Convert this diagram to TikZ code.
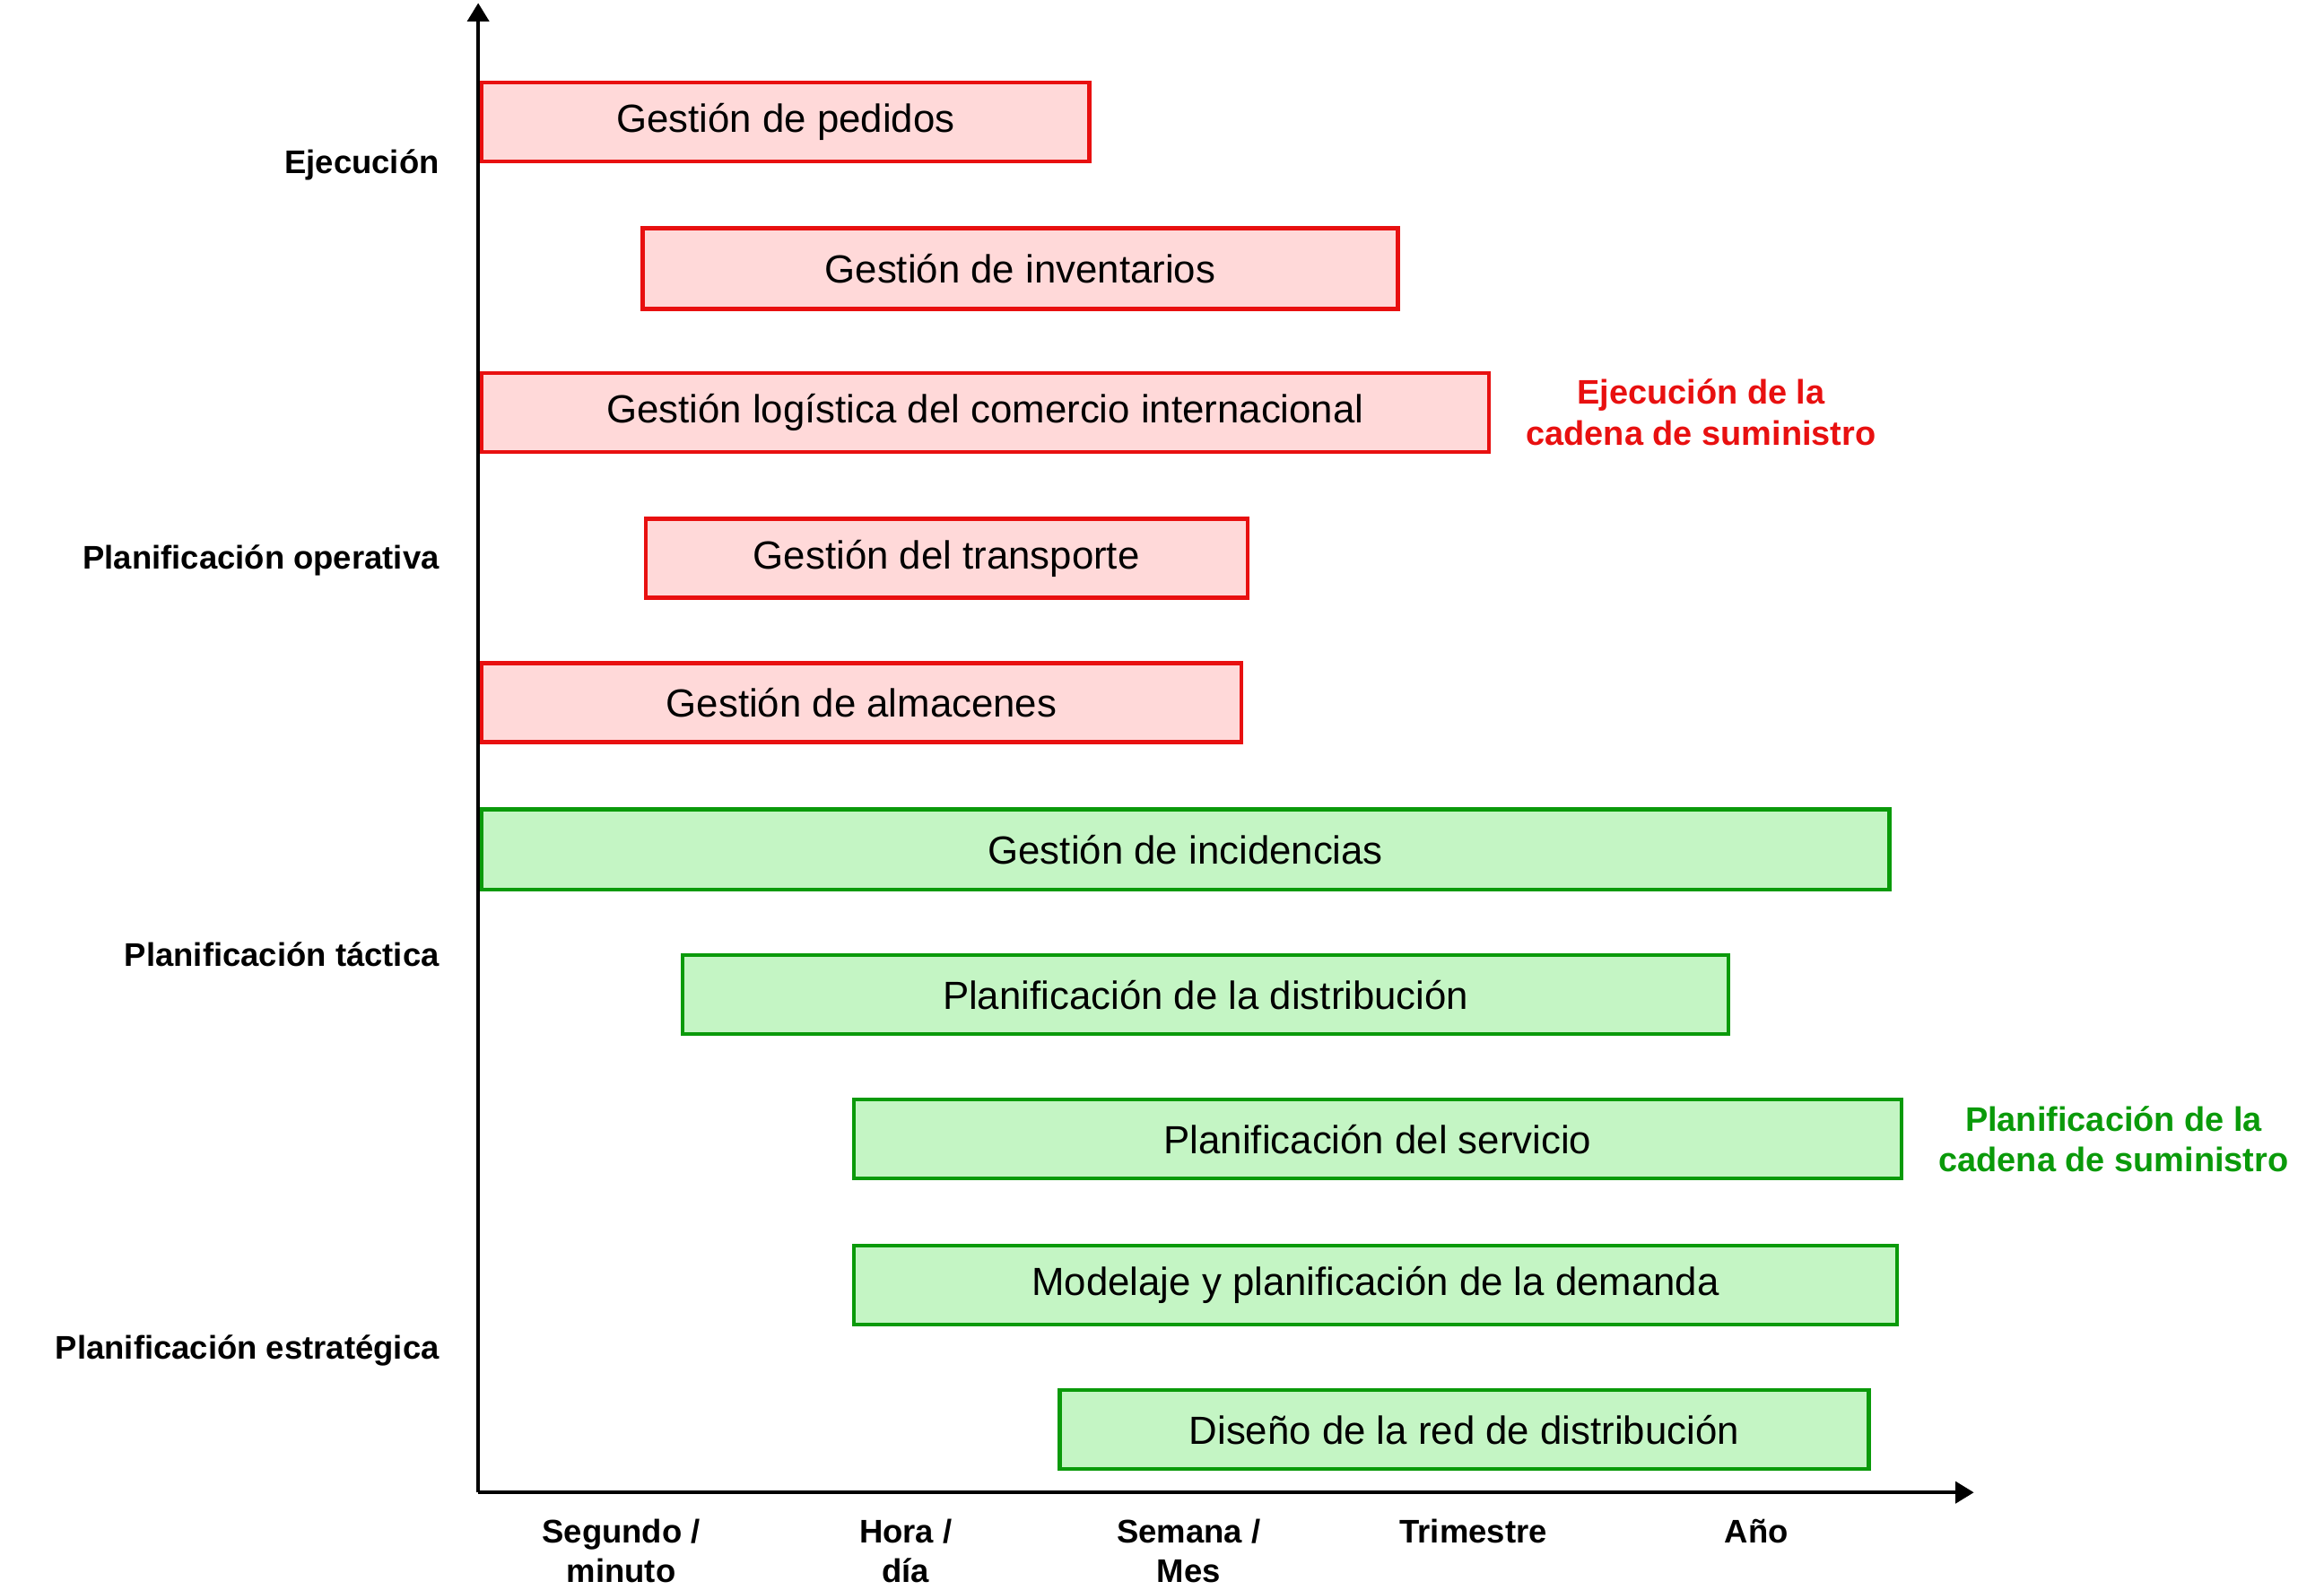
\documentclass[tikz,border=0pt]{standalone}
\usepackage{fontspec}
\setmainfont{Liberation Sans}
\usetikzlibrary{arrows.meta,positioning}
\definecolor{lightRed}{HTML}{FFD9D9}
\definecolor{darkRed}{HTML}{E81010}
\definecolor{lightGreen}{HTML}{C4F5C4}
\definecolor{darkGreen}{HTML}{0A9A0A}
\tikzset{
  task/.style={draw, line width=1.5pt, anchor=north west, inner sep=0pt,
    font=\fontsize{15}{18}\selectfont},
  redtask/.style={task, fill=lightRed, draw=darkRed},
  greentask/.style={task, fill=lightGreen, draw=darkGreen},
  level/.style={anchor=east, font=\bfseries\fontsize{12.5}{15}\selectfont},
  tick/.style={align=center, anchor=north, font=\bfseries\fontsize{12.5}{15}\selectfont},
  group/.style={align=center, font=\bfseries\fontsize{13}{15.5}\selectfont}
}
\begin{document}
\begin{tikzpicture}[x=0.02cm, y=-0.02cm, >=Triangle]
  \useasboundingbox (0,0) rectangle (1560,1067);

  % axes
  \coordinate (o) at (321,1002);
  \coordinate (ytop) at (321,2);
  \coordinate (xend) at (1325,1002);
  \draw[line width=1.5pt, ->] (o) -- (ytop);
  \draw[line width=1.5pt, ->] (o) -- (xend);

  % tasks
  \foreach \n/\xa/\ya/\xb/\yb/\s/\t in {
    pedidos/322/54/730/107/redtask/Gestión de pedidos,
    inventarios/430/152/937/206/redtask/Gestión de inventarios,
    logistica/322/249/998/302/redtask/Gestión logística del comercio internacional,
    transporte/432/347/836/400/redtask/Gestión del transporte,
    almacenes/322/444/832/497/redtask/Gestión de almacenes,
    incidencias/322/542/1267/596/greentask/Gestión de incidencias,
    distribucion/457/640/1159/693/greentask/Planificación de la distribución,
    servicio/572/737/1275/790/greentask/Planificación del servicio,
    demanda/572/835/1272/888/greentask/Modelaje y planificación de la demanda,
    red/710/932/1253/985/greentask/Diseño de la red de distribución}{
    \pgfmathsetmacro\w{(\xb-\xa)*0.02}
    \pgfmathsetmacro\h{(\yb-\ya)*0.02}
    \node[\s, minimum width=\w cm, minimum height=\h cm] (\n) at (\xa,\ya) {\raisebox{0.35cm}{}\t};
  }

  % levels
  \node[level] (ejec) at (301,111) {Ejecución};
  \node[level] (oper) at (301,376) {Planificación operativa};
  \node[level] (tact) at (301,641) {Planificación táctica};
  \node[level] (estr) at (301,907) {Planificación estratégica};

  % groups
  \node[group, text=darkRed, right=10pt of logistica] (grpRed)
    {Ejecución de la\\cadena de suministro};
  \node[group, text=darkGreen, right=10pt of servicio] (grpGreen)
    {Planificación de la\\cadena de suministro};

  % time scale
  \foreach \n/\x/\t in {seg/417/{Segundo /\\minuto}, hora/608/{Hora /\\día},
    sem/798/{Semana /\\Mes}, tri/989/Trimestre, ano/1179/Año}{
    \node[tick] (\n) at (\x,1014) {\t};
  }
\end{tikzpicture}
\end{document}
